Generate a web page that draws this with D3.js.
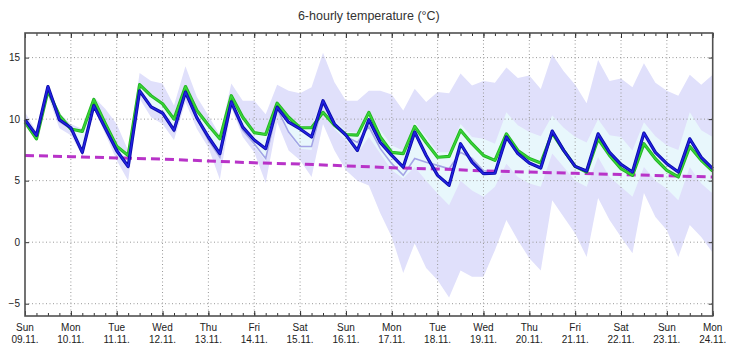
<!DOCTYPE html>
<meta charset="utf-8">
<style>
    html,
    body {
        margin: 0;
        padding: 0;
        background: #fff;
    }

    svg text {
        font-family: "Liberation Sans", Arial, sans-serif;
    }
</style>

<body>
    <svg width="732" height="352"></svg>
    <script src="https://cdn.jsdelivr.net/npm/d3@7"></script>
    <script>
        // 6-hourly steps from Sun 09.11. 00h to Mon 24.11. 00h (61 points)
        const startDay = new Date(2025, 10, 9);
        const endDay = new Date(2025, 10, 24);
        const yTicks = [-5, 0, 5, 10, 15];

        const mainRun = [9.95, 8.68, 12.65, 9.95, 9.3, 7.3, 11.1, 9.27, 7.45, 6.15,
            12.3, 11.0, 10.5, 9.1, 12.2, 10.1, 8.55, 7.2, 11.4, 9.35,
            8.3, 7.6, 10.97, 9.75, 9.2, 8.55, 11.5, 9.6, 8.7, 7.45,
            9.95, 8.1, 7.05, 6.1, 8.95, 7.05, 5.43, 4.62, 8.0, 6.5,
            5.57, 5.6, 8.55, 7.2, 6.43, 6.03, 9.03, 7.46, 6.16, 5.78,
            8.8, 7.3, 6.32, 5.7, 8.87, 7.3, 6.38, 5.7, 8.4, 6.9, 5.97];

        const ensMean = [9.75, 8.4, 12.3, 10.3, 9.2, 9.0, 11.6, 9.65, 7.8, 7.05,
            12.8, 11.9, 11.25, 10.0, 12.65, 10.7, 9.5, 8.4, 11.9, 10.15,
            8.9, 8.75, 11.3, 10.15, 9.3, 9.3, 10.55, 9.5, 8.75, 8.7,
            10.55, 8.55, 7.3, 7.2, 9.4, 8.1, 6.9, 6.97, 9.1, 8.0,
            7.05, 6.65, 8.8, 7.45, 6.8, 6.43, 8.87, 7.46, 6.16, 5.7,
            8.4, 7.05, 5.97, 5.43, 8.0, 6.78, 5.84, 5.3, 7.78, 6.65, 5.78];

        const controlRun = [9.9, 8.6, 12.5, 9.8, 9.2, 7.2, 11.0, 9.1, 7.3, 6.1,
            12.2, 10.9, 10.4, 9.0, 12.1, 10.0, 8.3, 6.9, 11.2, 9.1,
            8.0, 6.8, 10.85, 8.95, 7.78, 7.78, 11.25, 9.5, 8.6, 8.1,
            9.4, 7.6, 6.38, 5.43, 6.8, 6.5, 6.24, 5.97, 7.3, 6.8,
            5.8, 5.7, 8.5, 7.2, 6.4, 6.0, 9.0, 7.45, 6.15, 5.75,
            8.8, 7.3, 6.3, 5.7, 8.85, 7.3, 6.35, 5.7, 8.4, 6.9, 5.95];

        const outerHigh = [10.55, 9.0, 12.8, 10.5, 9.6, 9.2, 11.8, 10.85, 9.6, 7.45,
            13.75, 13.1, 12.9, 11.1, 14.3, 11.8, 10.3, 8.7, 12.9, 11.5,
            11.5, 10.4, 12.8, 12.3, 12.1, 12.6, 15.4, 13.0, 11.5, 11.5,
            12.3, 12.3, 12.0, 10.7, 12.46, 11.4, 12.2, 12.1, 13.7, 12.73,
            13.1, 12.95, 14.2, 13.35, 13.55, 12.45, 15.25, 13.9, 12.8, 11.3,
            14.8, 13.1, 13.3, 12.6, 14.55, 12.95, 12.3, 11.9, 13.6, 12.8, 13.6];

        const outerLow = [9.5, 8.3, 11.9, 9.25, 8.7, 7.05, 10.85, 8.8, 6.65, 5.0,
            11.65, 10.15, 9.6, 8.3, 11.4, 9.2, 7.7, 5.1, 10.97, 8.55,
            7.3, 4.8, 9.75, 7.45, 6.65, 5.3, 9.6, 7.45, 5.84, 5.0,
            4.6, 2.35, 0.43, -2.5, -0.1, -2.1, -3.1, -4.5, -2.3, -2.8,
            -2.8, -0.65, 1.8, 0.16, -1.3, -2.3, 3.4, 2.05, 0.7, -1.2,
            3.6, 1.8, 0.43, -0.9, 4.0, 2.05, 0.97, -1.2, 1.4, 0.43, -0.85];

        const innerHigh = [10.1, 8.8, 12.7, 10.4, 9.4, 9.1, 11.7, 9.8, 8.0, 7.2,
            12.9, 12.0, 11.4, 10.1, 12.8, 10.8, 9.6, 8.5, 12.0, 10.3,
            9.1, 8.9, 11.4, 10.3, 9.5, 9.4, 11.7, 9.9, 9.0, 8.9,
            10.6, 9.1, 7.86, 7.45, 9.75, 8.55, 7.3, 7.3, 9.6, 8.55,
            8.4, 8.0, 10.55, 9.5, 8.95, 8.6, 10.3, 9.3, 8.55, 8.1,
            10.0, 8.68, 8.55, 7.45, 9.75, 8.6, 7.86, 7.5, 10.55, 9.1, 8.55];

        const innerLow = [9.7, 8.4, 12.2, 9.8, 9.1, 7.2, 11.0, 9.1, 7.3, 6.0,
            12.1, 10.8, 10.3, 8.9, 12.0, 9.9, 8.2, 6.8, 11.2, 9.1,
            7.8, 6.6, 10.7, 8.8, 7.6, 7.5, 11.0, 9.2, 8.3, 7.2,
            8.55, 7.2, 5.84, 5.17, 6.1, 5.0, 3.95, 3.0, 5.0, 4.2,
            3.7, 4.5, 6.38, 5.3, 4.76, 4.5, 7.2, 6.1, 5.0, 4.5,
            6.9, 5.3, 4.5, 3.7, 6.1, 5.0, 4.35, 3.4, 6.1, 4.76, 3.95];

        // climate mean, one value per day (09.11. .. 24.11.)
        const climate = [7.05, 6.95, 6.85, 6.75, 6.6, 6.45, 6.35, 6.2,
            6.05, 5.95, 5.8, 5.7, 5.6, 5.5, 5.4, 5.3];

        const margin = { left: 25, right: 712.7, top: 33, bottom: 316 };
        const svg = d3.select('svg');

        const x = d3.scaleTime().domain([startDay, endDay]).range([margin.left, margin.right]);
        const y = d3.scaleLinear().domain([-6, 17]).range([margin.bottom, margin.top]);

        const times = mainRun.map((d, i) => d3.timeHour.offset(startDay, i * 6));
        const days = d3.timeDay.range(startDay, d3.timeDay.offset(endDay, 1));

        const band = (hi, lo) => d3.area()
            .x((d, i) => x(times[i]))
            .y0((d, i) => y(lo[i]))
            .y1((d, i) => y(hi[i]))(hi);
        const line = d3.line().x((d, i) => x(times[i])).y(d => y(d));

        svg.append('rect').attr('width', 732).attr('height', 352).attr('fill', '#fff');

        // spread bands
        svg.append('path').attr('d', band(outerHigh, outerLow)).attr('fill', '#e0e0fb');
        svg.append('path').attr('d', band(innerHigh, innerLow)).attr('fill', '#e8f7fc');

        // grid
        const grid = svg.append('g').attr('stroke', '#999').attr('stroke-width', 1)
            .attr('stroke-dasharray', '1,2.5');
        grid.selectAll('.h').data(yTicks).join('line')
            .attr('x1', margin.left).attr('x2', margin.right)
            .attr('y1', d => y(d)).attr('y2', d => y(d));
        grid.selectAll('.v').data(days.slice(1, -1)).join('line')
            .attr('x1', d => x(d)).attr('x2', d => x(d))
            .attr('y1', margin.top).attr('y2', margin.bottom);

        // series
        svg.append('path').attr('d', line(controlRun)).attr('fill', 'none')
            .attr('stroke', '#a4a4e6').attr('stroke-width', 1.6);
        svg.append('path')
            .attr('d', d3.line().x(d => x(d[0])).y(d => y(d[1]))(days.map((d, i) => [d, climate[i]])))
            .attr('fill', 'none').attr('stroke', '#b833c8').attr('stroke-width', 3)
            .attr('stroke-dasharray', '9,5');
        svg.append('path').attr('d', line(ensMean)).attr('fill', 'none')
            .attr('stroke', '#22b422').attr('stroke-width', 3.2).attr('stroke-linejoin', 'round');
        svg.append('path').attr('d', line(ensMean)).attr('fill', 'none')
            .attr('stroke', '#38d438').attr('stroke-width', 1.5).attr('stroke-linejoin', 'round');
        svg.append('path').attr('d', line(mainRun)).attr('fill', 'none')
            .attr('stroke', '#0a0aa8').attr('stroke-width', 3.2).attr('stroke-linejoin', 'round');
        svg.append('path').attr('d', line(mainRun)).attr('fill', 'none')
            .attr('stroke', '#2222e0').attr('stroke-width', 1.5).attr('stroke-linejoin', 'round');

        // axes (ticks pointing inward)
        const sixHours = d3.timeHour.every(6);
        const axisStyle = g => {
            g.select('.domain').remove();
            g.selectAll('line').attr('stroke', '#333');
            g.selectAll('text').attr('fill', '#222').style('font-size', '10px')
                .style('font-family', '"Liberation Sans", Arial, sans-serif');
        };
        svg.append('g').attr('transform', `translate(0,${margin.bottom})`)
            .call(d3.axisBottom(x).ticks(sixHours).tickSize(-3).tickFormat('')).call(axisStyle);
        svg.append('g').attr('transform', `translate(0,${margin.bottom})`)
            .call(d3.axisBottom(x).tickValues(days).tickSize(-5).tickFormat('')).call(axisStyle);
        svg.append('g').attr('transform', `translate(0,${margin.top})`)
            .call(d3.axisTop(x).ticks(sixHours).tickSize(-3).tickFormat('')).call(axisStyle);
        svg.append('g').attr('transform', `translate(0,${margin.top})`)
            .call(d3.axisTop(x).tickValues(days).tickSize(-5).tickFormat('')).call(axisStyle);
        svg.append('g').attr('transform', `translate(${margin.left},0)`)
            .call(d3.axisLeft(y).tickValues(yTicks).tickSize(-4).tickPadding(5)).call(axisStyle);
        svg.append('g').attr('transform', `translate(${margin.right},0)`)
            .call(d3.axisRight(y).tickValues(yTicks).tickSize(-4).tickFormat('')).call(axisStyle);

        svg.append('rect')
            .attr('x', margin.left).attr('y', margin.top)
            .attr('width', margin.right - margin.left).attr('height', margin.bottom - margin.top)
            .attr('fill', 'none').attr('stroke', '#505050').attr('stroke-width', 1.6);

        // day labels
        const fmtDay = d3.timeFormat('%a');
        const fmtDate = d3.timeFormat('%d.%m.');
        const labels = svg.append('g').attr('fill', '#222').style('font-size', '10px')
            .attr('text-anchor', 'middle');
        labels.selectAll('.d').data(days).join('text')
            .attr('x', d => x(d)).attr('y', 331).text(fmtDay);
        labels.selectAll('.m').data(days).join('text')
            .attr('x', d => x(d)).attr('y', 342.5).text(fmtDate);

        svg.append('text')
            .attr('x', (margin.left + margin.right) / 2).attr('y', 20)
            .attr('text-anchor', 'middle').attr('fill', '#333')
            .style('font-size', '12.5px')
            .text('6-hourly temperature (°C)');
    </script>
</body>
